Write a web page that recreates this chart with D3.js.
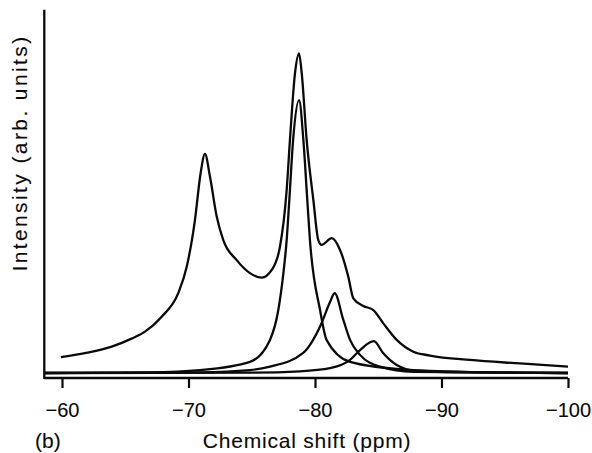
<!DOCTYPE html>
<html><head><meta charset="utf-8">
<script src="https://cdn.jsdelivr.net/npm/d3@7"></script>
<style>body{margin:0;background:#fff}</style>
</head><body>
<svg id="c" width="592" height="453"></svg>
<script>
// x tick values (ppm)
const xTicks = [-60, -70, -80, -90, -100];

// Total (summed) spectrum
const totalPpm = [-59.92,-62.0,-63.93,-65.5,-66.56,-67.88,-69.19,-69.86,-70.51,-70.96,-71.30,-71.70,-72.23,-72.75,-73.81,-74.86,-75.79,-76.58,-77.23,-77.76,-78.02,-78.42,-78.74,-78.95,-79.34,-79.87,-80.26,-80.53,-81.32,-81.98,-82.63,-83.03,-83.82,-84.61,-85.40,-86.46,-87.77,-89.09,-92.25,-96.21,-100];
const totalInt = [5.0,6.4,8.3,10.8,13.0,17.7,25.1,33.4,48.1,62.9,68.9,61.7,49.2,41.8,35.5,31.4,30.0,32.4,39.7,57.5,73.3,94.3,100.5,94.3,73.3,54.4,41.8,40.3,42.4,38.7,30.3,23.5,21.1,19.8,15.6,10.4,6.7,5.5,4.1,3.0,2.0];

// Component peak near -78.7 ppm
const compAPpm = [-58.6,-63.0,-66.96,-70.91,-74.86,-76.44,-77.10,-77.49,-77.76,-77.97,-78.27,-78.74,-79.08,-79.39,-79.60,-80.40,-80.92,-82.77,-86.72,-92.25,-100];
const compAInt = [0.0,0.1,0.2,0.9,3.5,10.4,19.8,31.0,41.8,54.4,73.3,85.8,73.3,54.4,41.8,19.8,10.4,3.5,1.2,0.3,0.0];

// Component peak near -81.6 ppm
const compBPpm = [-58.6,-66.0,-70.91,-74.86,-76.44,-79.07,-80.40,-81.19,-81.55,-82.24,-82.77,-83.56,-85.14,-87.77,-100];
const compBInt = [0.0,0.1,0.2,0.9,2.0,6.3,14.6,22.3,25.1,16.7,10.4,5.7,2.0,0.4,0.0];

// Component peak near -84.6 ppm
const compCPpm = [-58.6,-75.0,-78.8,-81.19,-82.77,-83.56,-84.65,-85.40,-86.46,-88.04,-92.0,-100];
const compCInt = [0.0,0.1,0.5,1.5,4.1,7.2,10.0,6.2,2.5,0.6,0.2,0.0];

const xLabel = "Chemical shift (ppm)";
const yLabel = "Intensity (arb. units)";
const panelLabel = "(b)";

const svg = d3.select("#c");
const x = d3.scaleLinear().domain([-60, -100]).range([62, 568]);
const y = d3.scaleLinear().domain([0, 100]).range([373, 55]);
const xMin = -58.6, yMin = -1.57, yMax = 114.2;

const ink = "#0a0a0a";
const font = "'Liberation Sans', Arial, Helvetica, sans-serif";
const textStroke = 0.12;

// axes lines
svg.append("line").attr("x1", x(xMin)).attr("x2", x(-100))
  .attr("y1", y(yMin)).attr("y2", y(yMin))
  .attr("stroke", ink).attr("stroke-width", 2.3);
svg.append("line").attr("x1", x(xMin)).attr("x2", x(xMin))
  .attr("y1", y(yMin) + 1.1).attr("y2", y(yMax))
  .attr("stroke", ink).attr("stroke-width", 2.3);

// x axis ticks and labels
const xAxis = d3.axisBottom(x).tickValues(xTicks).tickSize(10).tickPadding(15)
  .tickFormat(d => "\u2212" + Math.abs(d));
const gx = svg.append("g").attr("transform", `translate(0,${y(yMin)})`).call(xAxis);
gx.select(".domain").remove();
gx.selectAll(".tick line").attr("stroke", ink).attr("stroke-width", 2.2);
gx.selectAll(".tick text").attr("fill", ink).attr("font-family", font).attr("font-size", 20)
  .attr("stroke", ink).attr("stroke-width", textStroke);

// curves
const line = d3.line().x(d => x(d[0])).y(d => y(d[1])).curve(d3.curveMonotoneX);
const series = [
  [compCPpm, compCInt],
  [compBPpm, compBInt],
  [compAPpm, compAInt],
  [totalPpm, totalInt]
];
series.forEach(([p, v]) => {
  const data = p.map((pp, i) => [pp, v[i]]);
  svg.append("path").datum(data).attr("d", line)
    .attr("fill", "none").attr("stroke", ink).attr("stroke-width", 2.3)
    .attr("stroke-linejoin", "round");
});

// labels
svg.append("text").text(xLabel).attr("x", 307).attr("y", 448)
  .attr("text-anchor", "middle").attr("font-family", font).attr("font-size", 21)
  .attr("letter-spacing", 0.8).attr("fill", ink).attr("stroke", ink).attr("stroke-width", textStroke);
svg.append("text").text(panelLabel).attr("x", 35).attr("y", 448)
  .attr("font-family", font).attr("font-size", 21).attr("fill", ink)
  .attr("stroke", ink).attr("stroke-width", textStroke);
svg.append("text").text(yLabel)
  .attr("transform", "translate(27,153) rotate(-90)")
  .attr("text-anchor", "middle").attr("font-family", font).attr("font-size", 21)
  .attr("letter-spacing", 2.4).attr("fill", ink).attr("stroke", ink).attr("stroke-width", textStroke);
</script>
</body></html>
